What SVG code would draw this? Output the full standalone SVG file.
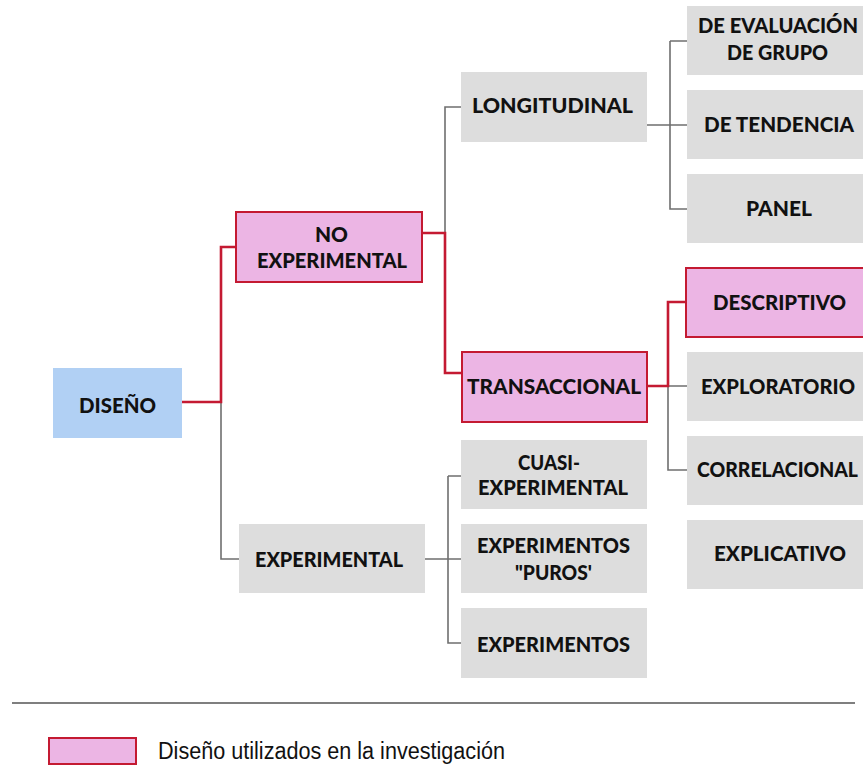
<svg xmlns="http://www.w3.org/2000/svg" width="863" height="765" viewBox="0 0 863 765">
  <style>
    .box { fill: #dddddd; }
    .used { fill: #ecb5e4; stroke: #c41a32; stroke-width: 2; }
    .root { fill: #b1d0f4; }
    .lbl { font-family: "Lato", "Liberation Sans", sans-serif; font-weight: 900; font-size: 21.5px; fill: #111111; text-anchor: middle; }
    .lbl.tight { font-size: 20px; }
    .gray { fill: none; stroke: #6f6f6f; stroke-width: 1.6; }
    .red { fill: none; stroke: #c41a32; stroke-width: 2.6; }
    .legend { font-family: "Liberation Sans", Arial, sans-serif; font-size: 23px; fill: #111111; }
  </style>
  <rect width="863" height="765" fill="#ffffff"/>

  <!-- connectors -->
  <g id="connectors">
    <!-- gray branches -->
    <path class="gray" d="M221 402 V559 H239"/>
    <path class="gray" d="M445 233 V107 H461"/>
    <path class="gray" d="M647 125 H687 M670 41 H687 M670 41 V209 H687"/>
    <path class="gray" d="M668 386 H687 M668 386 V470 H687"/>
    <path class="gray" d="M425 559 H461 M448 476 H461 M448 476 V643 H461"/>
    <!-- highlighted path -->
    <path class="red" d="M182 402 H221 V247 H235"/>
    <path class="red" d="M422 233 H445 V373 H461"/>
    <path class="red" d="M647 386 H668 V302 H686"/>
  </g>

  <!-- root -->
  <g id="diseno">
    <rect class="root" x="53" y="368" width="129" height="70"/>
    <text class="lbl" x="117.5" y="413" textLength="77" lengthAdjust="spacingAndGlyphs">DISEÑO</text>
  </g>

  <!-- level 1 -->
  <g id="no-experimental">
    <rect class="used" x="236" y="212" width="186" height="70"/>
    <text class="lbl" x="331.5" y="242" textLength="33" lengthAdjust="spacingAndGlyphs">NO</text>
    <text class="lbl" x="332" y="268" textLength="150" lengthAdjust="spacingAndGlyphs">EXPERIMENTAL</text>
  </g>
  <g id="experimental">
    <rect class="box" x="239" y="524" width="186" height="69"/>
    <text class="lbl" x="329" y="567" textLength="148" lengthAdjust="spacingAndGlyphs">EXPERIMENTAL</text>
  </g>

  <!-- level 2 -->
  <g id="longitudinal">
    <rect class="box" x="461" y="72" width="186" height="70"/>
    <text class="lbl" x="552.5" y="113" textLength="161" lengthAdjust="spacingAndGlyphs">LONGITUDINAL</text>
  </g>
  <g id="transaccional">
    <rect class="used" x="462" y="352" width="185" height="70"/>
    <text class="lbl" x="554" y="394" textLength="174" lengthAdjust="spacingAndGlyphs">TRANSACCIONAL</text>
  </g>
  <g id="cuasi-experimental">
    <rect class="box" x="461" y="440" width="186" height="69"/>
    <text class="lbl" x="549" y="470" textLength="62" lengthAdjust="spacingAndGlyphs">CUASI-</text>
    <text class="lbl" x="553" y="495" textLength="150" lengthAdjust="spacingAndGlyphs">EXPERIMENTAL</text>
  </g>
  <g id="experimentos-puros">
    <rect class="box" x="461" y="524" width="186" height="69"/>
    <text class="lbl" x="553.5" y="553" textLength="153" lengthAdjust="spacingAndGlyphs">EXPERIMENTOS</text>
    <text class="lbl" x="553.5" y="580" textLength="77" lengthAdjust="spacingAndGlyphs">"PUROS'</text>
  </g>
  <g id="experimentos">
    <rect class="box" x="461" y="608" width="186" height="70"/>
    <text class="lbl" x="553.5" y="652" textLength="153" lengthAdjust="spacingAndGlyphs">EXPERIMENTOS</text>
  </g>

  <!-- level 3 (column runs to the right edge) -->
  <g id="de-evaluacion-de-grupo">
    <rect class="box" x="687" y="6" width="176" height="69"/>
    <text class="lbl tight" x="778" y="33" textLength="160" lengthAdjust="spacingAndGlyphs">DE EVALUACIÓN</text>
    <text class="lbl" x="777.5" y="60" textLength="101" lengthAdjust="spacingAndGlyphs">DE GRUPO</text>
  </g>
  <g id="de-tendencia">
    <rect class="box" x="687" y="90" width="176" height="69"/>
    <text class="lbl" x="779" y="132" textLength="150" lengthAdjust="spacingAndGlyphs">DE TENDENCIA</text>
  </g>
  <g id="panel">
    <rect class="box" x="687" y="174" width="176" height="69"/>
    <text class="lbl" x="779" y="216" textLength="66" lengthAdjust="spacingAndGlyphs">PANEL</text>
  </g>
  <g id="descriptivo">
    <rect class="used" x="686" y="268" width="184" height="69"/>
    <text class="lbl" x="779.5" y="310" textLength="133" lengthAdjust="spacingAndGlyphs">DESCRIPTIVO</text>
  </g>
  <g id="exploratorio">
    <rect class="box" x="687" y="352" width="176" height="69"/>
    <text class="lbl tight" x="778" y="394" textLength="154" lengthAdjust="spacingAndGlyphs">EXPLORATORIO</text>
  </g>
  <g id="correlacional">
    <rect class="box" x="687" y="436" width="176" height="69"/>
    <text class="lbl tight" x="777.5" y="477" textLength="161" lengthAdjust="spacingAndGlyphs">CORRELACIONAL</text>
  </g>
  <g id="explicativo">
    <rect class="box" x="687" y="520" width="176" height="69"/>
    <text class="lbl" x="780" y="561" textLength="132" lengthAdjust="spacingAndGlyphs">EXPLICATIVO</text>
  </g>

  <!-- legend -->
  <g id="legend">
    <line x1="12" y1="703" x2="855" y2="703" stroke="#555555" stroke-width="1.5"/>
    <rect class="used" x="49" y="738" width="87" height="26" stroke-width="1.5"/>
    <text class="legend" x="158" y="759" textLength="347" lengthAdjust="spacingAndGlyphs">Diseño utilizados en la investigación</text>
  </g>
</svg>
